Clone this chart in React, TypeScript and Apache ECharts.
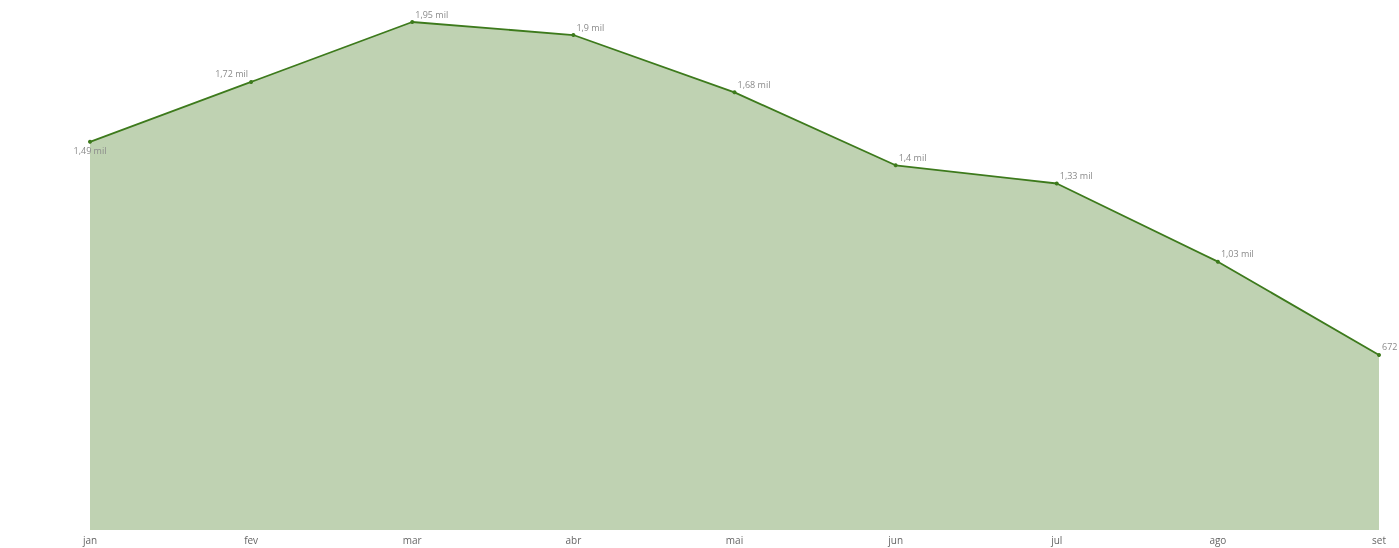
import React, { useEffect, useRef } from "react";
import * as echarts from "echarts";

const months = ["jan", "fev", "mar", "abr", "mai", "jun", "jul", "ago", "set"];
const values = [1490, 1720, 1950, 1900, 1680, 1400, 1330, 1030, 672];

function fmt(v: number): string {
  if (v < 1000) return String(Math.round(v));
  const k = Math.round(v / 10) / 100;
  return String(k).replace(".", ",") + " mil";
}

export default function App() {
  const ref = useRef<HTMLDivElement>(null);
  useEffect(() => {
    if (!ref.current) return;
    const chart = echarts.init(ref.current, undefined, { renderer: "svg" });
    const labelStyle = {
      show: true,
      fontFamily: "Open Sans",
      fontSize: 9,
      color: "#8a8a8a",
      formatter: (p: any) => fmt(p.value),
    };
    chart.setOption({
      animation: false,
      grid: { left: 90, right: 20, top: 22, bottom: 18 },
      xAxis: {
        type: "category",
        data: months,
        boundaryGap: false,
        axisLine: { show: false },
        axisTick: { show: false },
        axisLabel: {
          color: "#666",
          fontFamily: "Open Sans",
          fontSize: 10,
          margin: 5,
        },
      },
      yAxis: {
        type: "value",
        min: 0,
        max: 1950,
        show: false,
        splitLine: { show: false },
      },
      series: [
        {
          type: "line",
          data: values.map((v, i) => {
            if (i === 0) {
              return { value: v, label: { position: "bottom", distance: 2, offset: [0, 0] } };
            }
            if (i === 1) {
              return { value: v, label: { position: "left", distance: 1, offset: [0, -8] } };
            }
            return { value: v };
          }),
          symbol: "circle",
          symbolSize: 4,
          lineStyle: { color: "#3d7a1c", width: 1.8 },
          itemStyle: { color: "#3d7a1c" },
          areaStyle: { color: "#bfd2b2", opacity: 1 },
          label: { ...labelStyle, position: "right", distance: 1, offset: [0, -8] },
        },
      ],
    });
    return () => chart.dispose();
  }, []);
  return (
    <div
      ref={ref}
      style={{ position: "fixed", left: 0, top: 0, width: 1399, height: 548 }}
    />
  );
}
